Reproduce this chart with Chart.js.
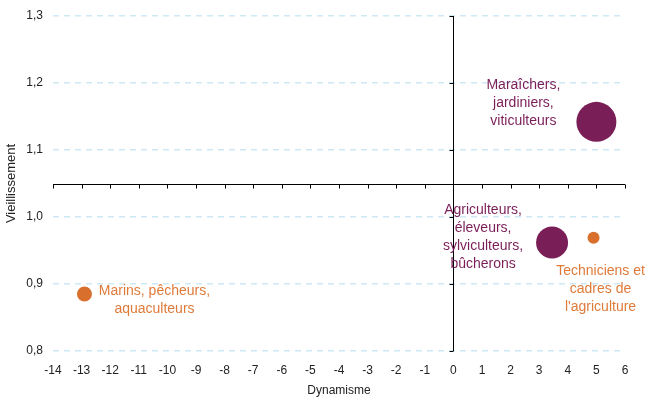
<!DOCTYPE html>
<html lang="fr">

<head>
    <meta charset="UTF-8">
    <title>Dynamisme et vieillissement</title>
    <style>
        html, body {
            margin: 0;
            padding: 0;
            background: #fff;
        }

        .container {
            width: 648px;
            height: 398px;
        }
    </style>
</head>

<body>
    <div class="container">
        <canvas id="chart" width="648" height="398"></canvas>
    </div>

    <script src="https://cdn.jsdelivr.net/npm/chart.js"></script>
    <script>
        // données
        const categories = [
            ['Maraîchers,', 'jardiniers,', 'viticulteurs'],
            ['Agriculteurs,', 'éleveurs,', 'sylviculteurs,', 'bûcherons'],
            ['Techniciens et', 'cadres de', "l'agriculture"],
            ['Marins, pêcheurs,', 'aquaculteurs']
        ];
        const dynamisme = [5.0, 3.45, 4.9, -12.9];
        const vieillissement = [1.142, 0.962, 0.969, 0.885];
        const taille = [20, 16, 6, 7.5];

        const xTickLabels = ['-14', '-13', '-12', '-11', '-10', '-9', '-8', '-7', '-6', '-5', '-4', '-3', '-2', '-1', '0', '1', '2', '3', '4', '5', '6'];
        const yTickLabels = ['0,8', '0,9', '1,0', '1,1', '1,2', '1,3'];

        // styles (couleurs et placement des étiquettes)
        const PURPLE = '#7a1e58';
        const ORANGE = '#d86f2c';
        const pointColors = [PURPLE, PURPLE, ORANGE, ORANGE];
        const textColors = [PURPLE, PURPLE, '#df7a39', '#df7a39'];
        const labelOffsets = [
            { dx: -73, dy: -37 },
            { dx: -69, dy: -32 },
            { dx: 7, dy: 33 },
            { dx: 70, dy: -3 }
        ];
        const FONT = "'Liberation Sans', Arial, sans-serif";

        // croisement des axes
        const xCross = 0;
        const yCross = 1.05;

        // axes qui se croisent au milieu du graphique
        const crossAxes = {
            id: 'crossAxes',
            beforeDatasetsDraw(chart) {
                const { ctx, scales: { x, y } } = chart;
                const x0 = Math.round(x.getPixelForValue(xCross)) + 0.5;
                const y0 = Math.round(y.getPixelForValue(yCross)) + 0.5;
                ctx.save();
                ctx.strokeStyle = '#000';
                ctx.lineWidth = 1;
                ctx.beginPath();
                ctx.moveTo(x.left, y0);
                ctx.lineTo(x.right, y0);
                x.ticks.forEach(t => {
                    const px = Math.round(x.getPixelForValue(t.value)) + 0.5;
                    ctx.moveTo(px, y0);
                    ctx.lineTo(px, y0 + 4);
                });
                ctx.moveTo(x0, y.top);
                ctx.lineTo(x0, y.bottom);
                y.ticks.forEach(t => {
                    const py = Math.round(y.getPixelForValue(t.value)) + 0.5;
                    ctx.moveTo(x0 - 4, py);
                    ctx.lineTo(x0, py);
                });
                ctx.stroke();
                ctx.restore();
            }
        };

        // étiquettes à côté des bulles
        const bubbleLabels = {
            id: 'bubbleLabels',
            afterDatasetsDraw(chart) {
                const { ctx } = chart;
                const meta = chart.getDatasetMeta(0);
                ctx.save();
                ctx.font = '14px ' + FONT;
                ctx.textAlign = 'center';
                ctx.textBaseline = 'middle';
                meta.data.forEach((pt, i) => {
                    const off = labelOffsets[i];
                    ctx.fillStyle = textColors[i];
                    categories[i].forEach((line, j) => {
                        ctx.fillText(line, pt.x + off.dx, pt.y + off.dy + j * 18);
                    });
                });
                ctx.restore();
            }
        };

        const ctx = document.getElementById('chart').getContext('2d');
        new Chart(ctx, {
            type: 'bubble',
            data: {
                datasets: [{
                    data: dynamisme.map((v, i) => ({ x: v, y: vieillissement[i], r: taille[i] })),
                    backgroundColor: pointColors,
                    borderWidth: 0
                }]
            },
            options: {
                responsive: false,
                animation: false,
                events: [],
                layout: {
                    // pas de marge automatique pour les grosses bulles
                    autoPadding: false,
                    padding: { top: 16, right: 23, left: 0, bottom: 0 }
                },
                plugins: {
                    legend: { display: false },
                    tooltip: { enabled: false }
                },
                scales: {
                    x: {
                        type: 'linear',
                        min: -14,
                        max: 6,
                        afterFit: s => { s.height = 47; s.paddingLeft = 0; s.paddingRight = 0; },
                        grid: { display: false, drawTicks: false },
                        border: { display: false },
                        ticks: {
                            stepSize: 1,
                            autoSkip: false,
                            maxRotation: 0,
                            padding: 12,
                            color: '#222',
                            font: { family: FONT, size: 12 },
                            callback: (v, i) => xTickLabels[i]
                        },
                        title: {
                            display: true,
                            text: 'Dynamisme',
                            color: '#222',
                            padding: { top: 0, bottom: 0 },
                            font: { family: FONT, size: 12 }
                        }
                    },
                    y: {
                        type: 'linear',
                        min: 0.8,
                        max: 1.3,
                        afterFit: s => { s.width = 53; s.paddingTop = 0; s.paddingBottom = 0; },
                        grid: {
                            drawTicks: true,
                            tickLength: 10,
                            tickColor: 'rgba(0,0,0,0)',
                            color: '#cde9f6',
                            lineWidth: 1.5
                        },
                        border: { display: false, dash: [6, 5] },
                        ticks: {
                            stepSize: 0.1,
                            padding: 0,
                            color: '#222',
                            font: { family: FONT, size: 12 },
                            callback: (v, i) => yTickLabels[i]
                        },
                        title: {
                            display: true,
                            text: 'Vieillissement',
                            color: '#222',
                            padding: { top: 4, bottom: 0 },
                            font: { family: FONT, size: 13 }
                        }
                    }
                }
            },
            plugins: [crossAxes, bubbleLabels]
        });
    </script>
</body>

</html>
